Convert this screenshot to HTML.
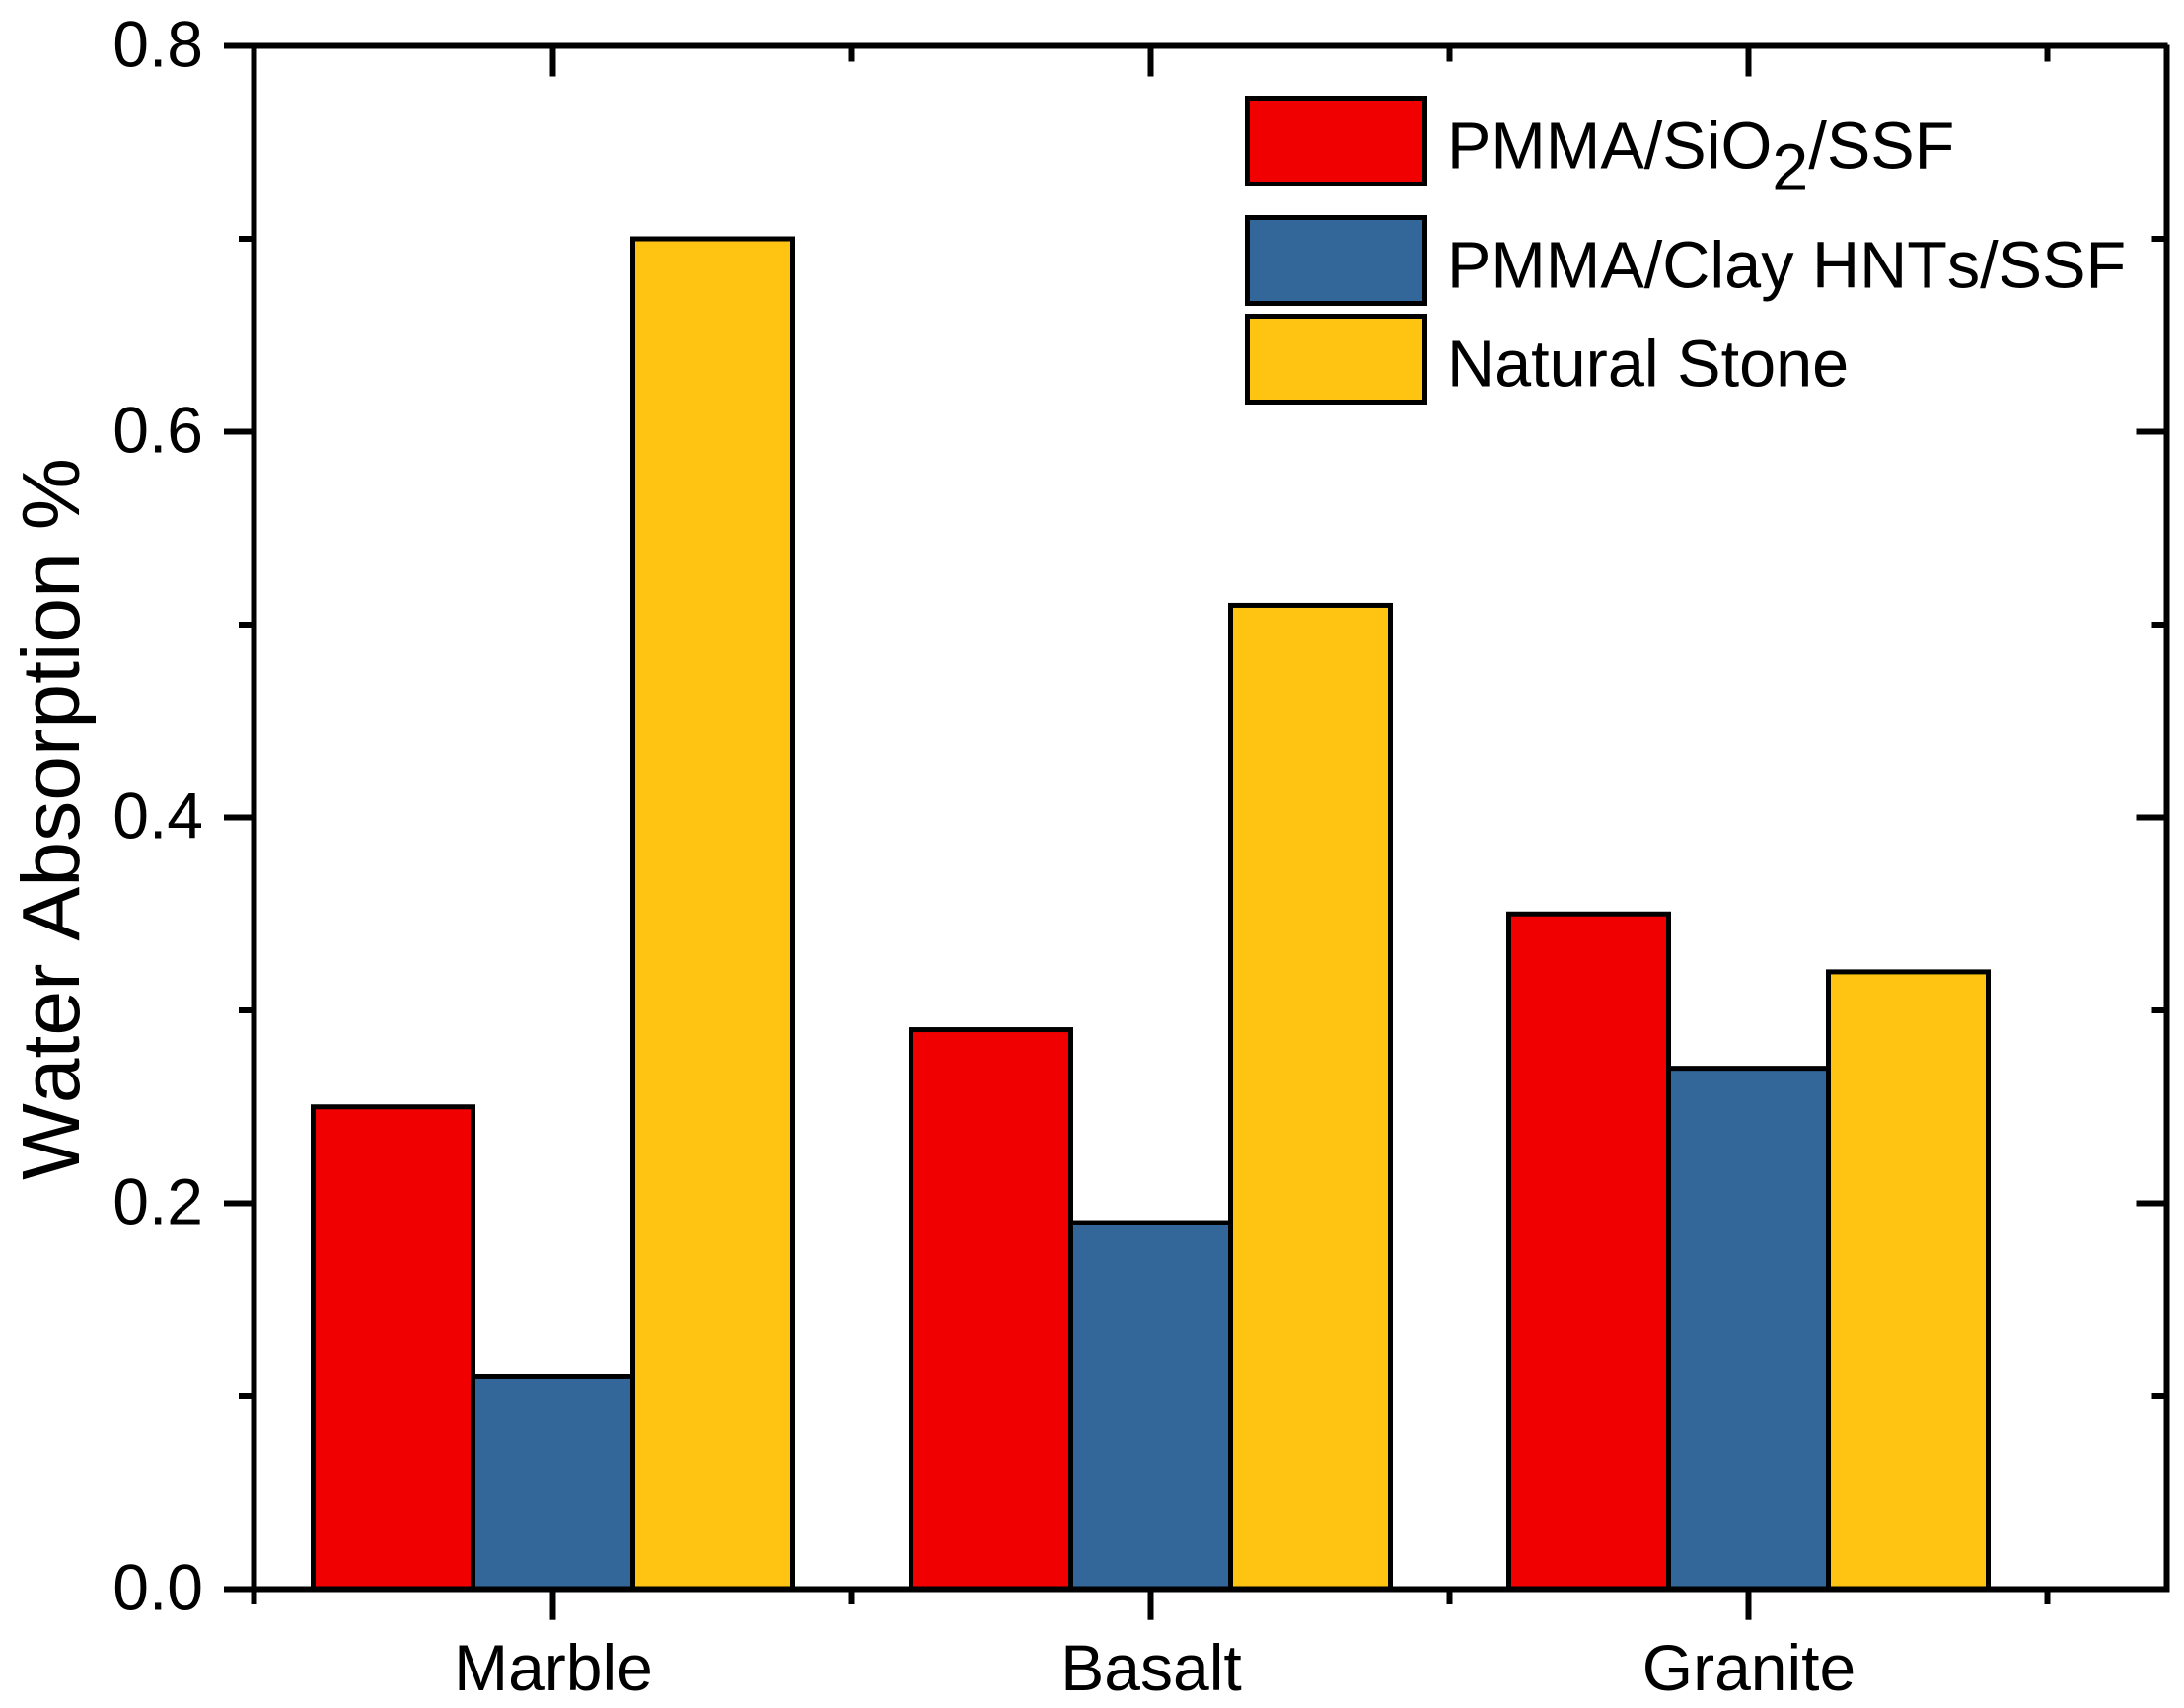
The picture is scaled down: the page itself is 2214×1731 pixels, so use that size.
<!DOCTYPE html>
<html lang="en">
<head>
<meta charset="utf-8">
<title>Water Absorption Bar Chart</title>
<style>
  html, body { margin: 0; padding: 0; background: #fff; }
  svg { display: block; font-family: "Liberation Sans", Arial, sans-serif; fill: #000; font-kerning: none; }
</style>
</head>
<body>
<svg id="chart" xmlns="http://www.w3.org/2000/svg" width="2214" height="1731" viewBox="0 0 2214 1731">
  <rect x="0" y="0" width="2214" height="1731" fill="#fff"/>
  <g id="bars"></g>
  <g id="axes"></g>
  <text transform="translate(80,830) rotate(-90)" text-anchor="middle" font-size="82.3">Water Absorption %</text>
  <g>
    <g>
      <rect x="1264.5" y="99.5" width="180" height="87" fill="#F00000" stroke="#000" stroke-width="5"/>
      <text x="1467" y="170.5" font-size="66.6">PMMA/SiO<tspan dy="22">2</tspan><tspan dy="-22">/SSF</tspan></text>
    </g>
    <g>
      <rect x="1264.5" y="220.5" width="180" height="87" fill="#336699" stroke="#000" stroke-width="5"/>
      <text x="1467" y="291.5" font-size="66.6">PMMA/Clay HNTs/SSF</text>
    </g>
    <g>
      <rect x="1264.5" y="320.5" width="180" height="87" fill="#FFC412" stroke="#000" stroke-width="5"/>
      <text x="1467" y="391.5" font-size="66.6">Natural Stone</text>
    </g>
  </g>
</svg>
<script>
const categories = ['Marble', 'Basalt', 'Granite'];
const seriesNames = ['pmma-sio2-ssf', 'pmma-clay-hnts-ssf', 'natural-stone'];
const seriesColors = ['#F00000', '#336699', '#FFC412'];
const pmmaSio2Values = [0.25, 0.29, 0.35];
const pmmaClayValues = [0.11, 0.19, 0.27];
const naturalStoneValues = [0.70, 0.51, 0.32];
const yTickLabels = ['0.0', '0.2', '0.4', '0.6', '0.8'];
const yMinorTicks = [0.1, 0.3, 0.5, 0.7];

const NS = 'http://www.w3.org/2000/svg';
const allSeries = [pmmaSio2Values, pmmaClayValues, naturalStoneValues];

function yScale(v) { return 1610.5 - v * 1955; }
function xScale(i) { return 560.5 + i * 606; }
const barWidth = 162;

const barsGroup = document.getElementById('bars');
const axesGroup = document.getElementById('axes');

function line(parent, x1, y1, x2, y2, name) {
  const el = document.createElementNS(NS, 'line');
  el.setAttribute('x1', x1);
  el.setAttribute('y1', y1);
  el.setAttribute('x2', x2);
  el.setAttribute('y2', y2);
  el.setAttribute('stroke', '#000');
  el.setAttribute('stroke-width', 6);
  
  
  parent.appendChild(el);
}

function label(parent, x, y, anchor, text, name) {
  const el = document.createElementNS(NS, 'text');
  el.setAttribute('x', x);
  el.setAttribute('y', y);
  el.setAttribute('text-anchor', anchor);
  el.setAttribute('font-size', 66);
  el.textContent = text;
  
  
  parent.appendChild(el);
}

allSeries.forEach(function (values, s) {
  values.forEach(function (v, i) {
    const rect = document.createElementNS(NS, 'rect');
    rect.setAttribute('x', xScale(i) + (s - 1.5) * barWidth);
    rect.setAttribute('y', yScale(v));
    rect.setAttribute('width', barWidth);
    rect.setAttribute('height', yScale(0) - yScale(v));
    rect.setAttribute('fill', seriesColors[s]);
    rect.setAttribute('stroke', '#000');
    rect.setAttribute('stroke-width', 5);
    
    
    barsGroup.appendChild(rect);
  });
});

const left = 257.5, right = 2196.5, top0 = yScale(0.8), bottom = yScale(0);

// Frame
line(axesGroup, 227, top0, 2197.5, top0, 'top-axis-line');
line(axesGroup, 227, bottom, 2199.5, bottom, 'x-axis-line');
line(axesGroup, left, top0, left, 1626, 'y-axis-line');
line(axesGroup, right, top0 - 1, right, bottom + 3, 'right-axis-line');

// Y ticks
yTickLabels.forEach(function (t) {
  const y = yScale(parseFloat(t));
  if (parseFloat(t) > 0 && parseFloat(t) < 0.8) {
    line(axesGroup, 227, y, left, y, 'y-major-tick-' + t);
    line(axesGroup, right - 31, y, right, y, 'right-major-tick-' + t);
  }
  label(axesGroup, 206, y + 20.8, 'end', t, 'y-tick-label-' + t);
});
yMinorTicks.forEach(function (v) {
  const y = yScale(v);
  line(axesGroup, 242, y, left, y, 'y-minor-tick-' + v);
  line(axesGroup, right - 15, y, right, y, 'right-minor-tick-' + v);
});

// X ticks
categories.forEach(function (c, i) {
  const x = xScale(i);
  line(axesGroup, x, bottom, x, 1641.7, 'x-major-tick-' + c.toLowerCase());
  line(axesGroup, x, top0, x, top0 + 31, 'top-major-tick-' + c.toLowerCase());
  label(axesGroup, x + 0.5, 1713, 'middle', c, 'x-tick-label-' + c.toLowerCase());
  const mx = x + 303;
  line(axesGroup, mx, bottom, mx, 1626, 'x-minor-tick-' + i);
  line(axesGroup, mx, top0, mx, top0 + 16, 'top-minor-tick-' + i);
});
</script>
</body>
</html>
